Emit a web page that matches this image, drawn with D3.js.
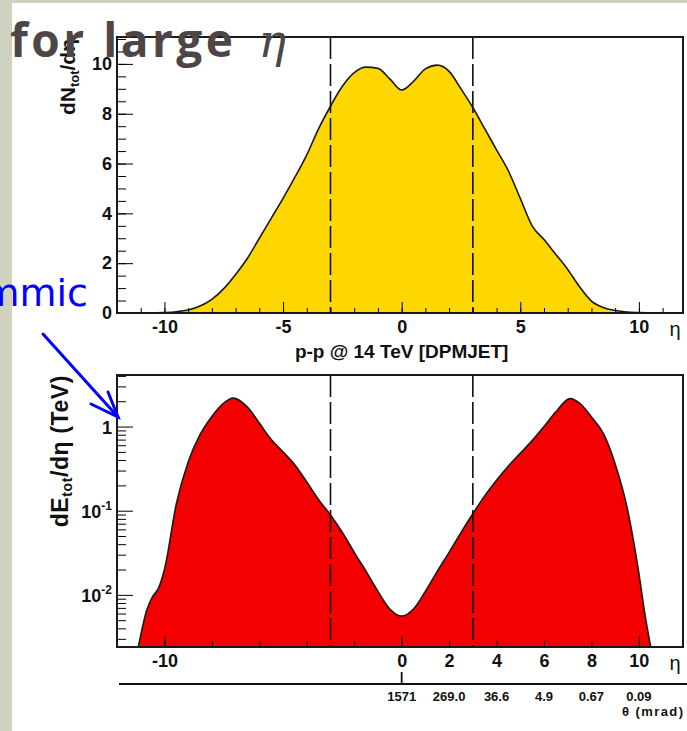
<!DOCTYPE html>
<html>
<head>
<meta charset="utf-8">
<script src="https://cdn.jsdelivr.net/npm/d3@7"></script>
<style>
  body { margin: 0; background: #fff; }
  svg { display: block; }
  .tick text { font-family: "Liberation Sans", Arial, sans-serif; font-weight: bold; fill: #111; }
</style>
</head>
<body>
<script>
// --- data ---
// top panel: charged multiplicity dN/deta
const etaN = [-11, -10.5, -10, -9.5, -9, -8.5, -8, -7.5, -7, -6.5, -6, -5.5, -5, -4.5, -4, -3.5, -3, -2.5, -2, -1.5, -1, -0.5, 0,
  0.5, 1, 1.5, 2, 2.5, 3, 3.5, 4, 4.5, 5, 5.5, 6, 6.5, 7, 7.5, 8, 8.5, 9, 9.5, 10, 10.5, 11];
const dNdEta = [0, 0.01, 0.02, 0.05, 0.12, 0.28, 0.55, 0.98, 1.55, 2.2, 3.0, 3.8, 4.6, 5.45, 6.35, 7.4, 8.3, 9.1, 9.65, 9.87, 9.82, 9.4, 8.95,
  9.3, 9.8, 9.95, 9.7, 9.0, 8.25, 7.4, 6.55, 5.7, 4.6, 3.5, 2.95, 2.35, 1.75, 1.05, 0.48, 0.22, 0.1, 0.04, 0.02, 0.01, 0];

// bottom panel: energy flow dE/deta (TeV), log scale
const etaE = [-11.1, -10.75, -10.5, -10.25, -10, -9.5, -9, -8.5, -8, -7.5, -7.1, -6.5, -6, -5.5, -5, -4.5, -4, -3.5, -3, -2.5, -2, -1.5, -1, -0.5, 0,
  0.5, 1, 1.5, 2, 2.5, 3, 3.5, 4, 4.5, 5, 5.5, 6, 6.5, 7.1, 7.5, 8, 8.5, 9, 9.5, 10, 10.25, 10.5];
const dEdEta = [0.0024, 0.0065, 0.0095, 0.012, 0.02, 0.12, 0.38, 0.8, 1.32, 1.9, 2.18, 1.7, 1.1, 0.7, 0.5, 0.35, 0.22, 0.135, 0.089, 0.055, 0.032, 0.019, 0.011, 0.0068, 0.0056,
  0.0068, 0.011, 0.019, 0.032, 0.055, 0.092, 0.15, 0.23, 0.34, 0.48, 0.68, 1.0, 1.5, 2.15, 1.9, 1.3, 0.83, 0.36, 0.11, 0.018, 0.006, 0.0024];

const cutEta = [-3, 3];
const topXTicks = [-10, -5, 0, 5, 10];
const topYTicks = [0, 2, 4, 6, 8, 10];
const botXTicks = [-10, -8, -6, -4, -2, 0, 2, 4, 6, 8, 10];
const botXLabels = [-10, 0, 2, 4, 6, 8, 10];
const botYTicks = [0.01, 0.1, 1];
const thetaEta = [0, 2, 4, 6, 8, 10];
const thetaLabels = ["1571", "269.0", "36.6", "4.9", "0.67", "0.09"];

const W = 687, H = 731;
const font = '"Liberation Sans", Arial, sans-serif';

const svg = d3.select("body").append("svg")
  .attr("width", W).attr("height", H);

// slide background strips
svg.append("rect").attr("x", 0).attr("y", 0).attr("width", W).attr("height", 3).attr("fill", "#cfd2be");
svg.append("rect").attr("x", 0).attr("y", 0).attr("width", 12).attr("height", H).attr("fill", "#cfd2be");

const x = d3.scaleLinear([-12, 11.86], [117, 683]);
const yTop = d3.scaleLinear([0, 11.08], [313, 37]);
const yBot = d3.scaleLog([0.0024, 4.1], [647, 375]).clamp(true);

function panel(y, etas, vals, fill) {
  const g = svg.append("g");
  const [y0, y1] = y.range();
  g.append("rect").attr("x", x.range()[0]).attr("y", y1)
    .attr("width", x.range()[1] - x.range()[0]).attr("height", y0 - y1).attr("fill", "#fff");
  const pts = etas.map((e, i) => [e, vals[i]]);
  g.append("path").datum(pts)
    .attr("d", d3.area().x(d => x(d[0])).y0(y0).y1(d => y(d[1])).curve(d3.curveMonotoneX))
    .attr("fill", fill);
  g.append("path").datum(pts)
    .attr("d", d3.line().x(d => x(d[0])).y(d => y(d[1])).curve(d3.curveMonotoneX))
    .attr("fill", "none").attr("stroke", "#1a1a1a").attr("stroke-width", 1.6);
  g.selectAll(".cut").data(cutEta).enter().append("line")
    .attr("x1", d => x(d)).attr("x2", d => x(d)).attr("y1", y1).attr("y2", y0)
    .attr("stroke", "#111").attr("stroke-width", 1.6).attr("stroke-dasharray", "22,5");
  return g;
}

// ---- top panel ----
const gTop = panel(yTop, etaN, dNdEta, "#ffd700");

gTop.append("g").attr("transform", "translate(0,313)")
  .call(d3.axisBottom(x).tickValues(d3.range(-12, 12, 1)).tickSizeInner(-5).tickSizeOuter(0).tickFormat(""))
  .call(a => a.select(".domain").remove());
gTop.append("g").attr("transform", "translate(0,313)")
  .call(d3.axisBottom(x).tickValues(topXTicks).tickSizeInner(-11).tickSizeOuter(0).tickPadding(7))
  .call(a => a.select(".domain").remove())
  .call(a => a.selectAll("text").attr("font-size", 18).text(d => d < 0 ? "-" + Math.abs(d) : d));

gTop.append("g").attr("transform", "translate(117,0)")
  .call(d3.axisLeft(yTop).tickValues(d3.range(0, 11.01, 0.5)).tickSizeInner(-9).tickSizeOuter(0).tickFormat(""))
  .call(a => a.select(".domain").remove());
gTop.append("g").attr("transform", "translate(117,0)")
  .call(d3.axisLeft(yTop).tickValues(topYTicks).tickSizeInner(-16).tickSizeOuter(0).tickPadding(5))
  .call(a => a.select(".domain").remove())
  .call(a => a.selectAll("text").attr("font-size", 18));

gTop.append("rect").attr("x", 117).attr("y", 37).attr("width", 566).attr("height", 276)
  .attr("fill", "none").attr("stroke", "#1a1a1a").attr("stroke-width", 2);

gTop.append("text").attr("x", 675).attr("y", 336).attr("text-anchor", "middle")
  .attr("font-family", font).attr("font-size", 20).attr("fill", "#111").text("η");
gTop.append("text").attr("x", x(0)).attr("y", 358).attr("text-anchor", "middle")
  .attr("font-family", font).attr("font-weight", "bold").attr("font-size", 19).attr("fill", "#111")
  .text("p-p @ 14 TeV [DPMJET]");

const tTop = gTop.append("text").attr("transform", "translate(75,39) rotate(-90)")
  .attr("text-anchor", "end").attr("font-family", font).attr("font-weight", "bold")
  .attr("font-size", 21).attr("fill", "#111");
tTop.append("tspan").text("dN");
tTop.append("tspan").attr("font-size", 13).attr("dy", 4).text("tot");
tTop.append("tspan").attr("dy", -4).text("/dη");

// ---- bottom panel ----
const gBot = panel(yBot, etaE, dEdEta, "#f50000");

gBot.append("g").attr("transform", "translate(0,647)")
  .call(d3.axisBottom(x).tickValues(botXTicks).tickSizeInner(-6).tickSizeOuter(0).tickFormat(""))
  .call(a => a.select(".domain").remove());
gBot.append("g").attr("transform", "translate(0,647)")
  .call(d3.axisBottom(x).tickValues(botXLabels).tickSizeInner(0).tickSizeOuter(0).tickPadding(7))
  .call(a => a.select(".domain").remove())
  .call(a => a.selectAll("text").attr("font-size", 18).text(d => d < 0 ? "-" + Math.abs(d) : d));
gBot.append("g").attr("transform", "translate(0,647)")
  .call(d3.axisBottom(x).tickValues([-10, 0, 10]).tickSizeInner(-11).tickSizeOuter(0).tickFormat(""))
  .call(a => a.select(".domain").remove());

const logMinor = [];
[-3, -2, -1, 0].forEach(p => d3.range(2, 10).forEach(m => {
  const v = m * Math.pow(10, p);
  if (v > 0.0024 && v < 4.1) logMinor.push(v);
}));
gBot.append("g").attr("transform", "translate(117,0)")
  .call(d3.axisLeft(yBot).tickValues(logMinor).tickSizeInner(-9).tickSizeOuter(0).tickFormat(""))
  .call(a => a.select(".domain").remove());
const yAx = gBot.append("g").attr("transform", "translate(117,0)")
  .call(d3.axisLeft(yBot).tickValues(botYTicks).tickSizeInner(-16).tickSizeOuter(0).tickPadding(5).tickFormat(""))
  .call(a => a.select(".domain").remove());
yAx.selectAll(".tick").each(function(d) {
  const t = d3.select(this).append("text").attr("x", -5).attr("dy", "0.36em")
    .attr("text-anchor", "end").attr("font-size", 18).attr("fill", "#111");
  if (d === 1) { t.text("1"); return; }
  t.append("tspan").text("10");
  t.append("tspan").attr("font-size", 12).attr("dy", -8).text(Math.round(Math.log10(d)));
});

gBot.append("rect").attr("x", 117).attr("y", 375).attr("width", 566).attr("height", 272)
  .attr("fill", "none").attr("stroke", "#1a1a1a").attr("stroke-width", 2);

gBot.append("text").attr("x", 675).attr("y", 670).attr("text-anchor", "middle")
  .attr("font-family", font).attr("font-size", 20).attr("fill", "#111").text("η");

const tBot = gBot.append("text").attr("transform", "translate(68,375) rotate(-90)")
  .attr("text-anchor", "end").attr("font-family", font).attr("font-weight", "bold")
  .attr("font-size", 23).attr("letter-spacing", 0.6).attr("fill", "#111");
tBot.append("tspan").text("dE");
tBot.append("tspan").attr("font-size", 14).attr("dy", 4).text("tot");
tBot.append("tspan").attr("dy", -4).text("/dη (TeV)");

// theta axis
const gTh = svg.append("g");
gTh.append("line").attr("x1", 119).attr("x2", W).attr("y1", 684).attr("y2", 684)
  .attr("stroke", "#111").attr("stroke-width", 1.8);
gTh.append("line").attr("x1", x(0)).attr("x2", x(0)).attr("y1", 672).attr("y2", 684)
  .attr("stroke", "#111").attr("stroke-width", 1.8);
gTh.selectAll(".th").data(thetaEta).enter().append("text")
  .attr("x", d => x(d)).attr("y", 701).attr("text-anchor", "middle")
  .attr("font-family", font).attr("font-weight", "bold").attr("font-size", 13).attr("fill", "#111")
  .text((d, i) => thetaLabels[i]);
gTh.append("text").attr("x", 622).attr("y", 716)
  .attr("font-family", font).attr("font-weight", "bold").attr("font-size", 13).attr("fill", "#111")
  .attr("textLength", 61).text("θ (mrad)");

// slide overlay text
const title = svg.append("text").attr("x", 10).attr("y", 57)
  .attr("font-family", '"Open Sans", sans-serif').attr("font-weight", "bold")
  .attr("font-size", 46).attr("fill", "#4e4646");
title.append("tspan").attr("letter-spacing", 3.5).text("for large");
title.append("tspan").attr("dx", 22).attr("font-family", '"DejaVu Serif", serif').attr("font-style", "italic")
  .attr("font-weight", "normal").text("η");

svg.append("text").attr("x", 88).attr("y", 306).attr("text-anchor", "end")
  .attr("font-family", '"DejaVu Sans", sans-serif').attr("font-size", 38).attr("fill", "#0000ff")
  .text("mmic");

const arrow = svg.append("g").attr("stroke", "#0000ff").attr("stroke-width", 3)
  .attr("stroke-linecap", "round").attr("fill", "none");
arrow.append("line").attr("x1", 43).attr("y1", 334).attr("x2", 118).attr("y2", 417);
arrow.append("polyline").attr("points", "108,392 118,417 91,404");
</script>
</body>
</html>
